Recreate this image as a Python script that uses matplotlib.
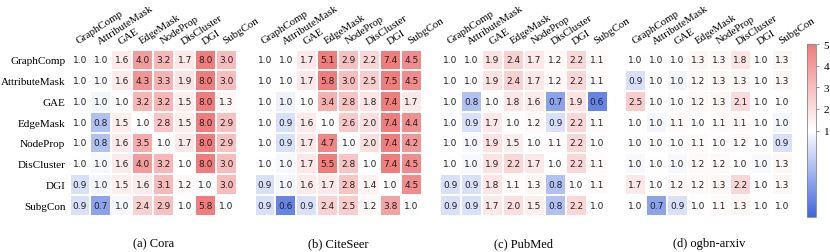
import numpy as np
import matplotlib
matplotlib.use("Agg")
import matplotlib.pyplot as plt
from matplotlib.colors import LinearSegmentedColormap, TwoSlopeNorm

methods = ["GraphComp", "AttributeMask", "GAE", "EdgeMask",
           "NodeProp", "DisCluster", "DGI", "SubgCon"]
titles = ["(a) Cora", "(b) CiteSeer", "(c) PubMed", "(d) ogbn-arxiv"]

cora = [
    [1.0, 1.0, 1.6, 4.0, 3.2, 1.7, 8.0, 3.0],
    [1.0, 1.0, 1.6, 4.3, 3.3, 1.9, 8.0, 3.0],
    [1.0, 0.97, 1.0, 3.2, 3.2, 1.5, 8.0, 1.3],
    [1.0, 0.8, 1.5, 1.0, 2.8, 1.5, 8.0, 2.9],
    [1.0, 0.8, 1.6, 3.5, 1.0, 1.7, 8.0, 2.9],
    [1.0, 0.98, 1.6, 4.0, 3.2, 1.0, 8.0, 3.0],
    [0.9, 0.97, 1.5, 1.6, 3.1, 1.2, 1.0, 3.0],
    [0.9, 0.7, 0.98, 2.4, 2.9, 1.0, 5.8, 1.0],
]
citeseer = [
    [1.0, 1.0, 1.7, 5.1, 2.9, 2.2, 7.4, 4.5],
    [1.0, 1.0, 1.7, 5.8, 3.0, 2.5, 7.5, 4.5],
    [1.0, 0.96, 1.0, 3.4, 2.8, 1.8, 7.4, 1.7],
    [1.0, 0.9, 1.6, 1.0, 2.6, 2.0, 7.4, 4.4],
    [1.0, 0.9, 1.7, 4.7, 1.0, 2.0, 7.4, 4.2],
    [1.0, 0.98, 1.7, 5.5, 2.8, 1.0, 7.4, 4.5],
    [0.9, 0.97, 1.6, 1.7, 2.8, 1.4, 1.0, 4.5],
    [0.9, 0.6, 0.9, 2.4, 2.5, 1.2, 3.8, 1.0],
]
pubmed = [
    [1.0, 1.0, 1.9, 2.4, 1.7, 1.2, 2.2, 1.1],
    [1.0, 1.0, 1.9, 2.4, 1.7, 1.2, 2.2, 1.1],
    [1.0, 0.8, 1.0, 1.8, 1.6, 0.7, 1.9, 0.6],
    [1.0, 0.9, 1.7, 1.0, 1.2, 0.9, 2.2, 1.1],
    [1.0, 0.98, 1.9, 1.5, 1.0, 1.1, 2.2, 1.0],
    [1.0, 0.98, 1.9, 2.2, 1.7, 1.0, 2.2, 1.1],
    [0.9, 0.9, 1.8, 1.1, 1.3, 0.8, 1.0, 1.1],
    [0.9, 0.9, 1.7, 2.0, 1.5, 0.8, 2.2, 1.0],
]
arxiv = [
    [1.0, 1.0, 1.0, 1.3, 1.3, 1.8, 1.0, 1.3],
    [0.9, 1.0, 0.97, 1.2, 1.3, 1.3, 1.0, 1.3],
    [2.5, 1.0, 1.0, 1.2, 1.3, 2.1, 1.0, 1.0],
    [1.0, 0.97, 1.1, 1.0, 1.1, 1.1, 1.0, 0.97],
    [1.0, 1.0, 1.0, 1.1, 1.0, 1.2, 1.0, 0.9],
    [0.98, 1.0, 0.98, 1.2, 1.2, 1.0, 0.98, 1.3],
    [1.7, 1.0, 1.2, 1.2, 1.3, 2.2, 1.0, 1.3],
    [1.0, 0.7, 0.9, 1.0, 1.1, 1.3, 1.0, 1.0],
]
datasets = [cora, citeseer, pubmed, arxiv]

serif = "Liberation Serif"
cmap = LinearSegmentedColormap.from_list("bwr_soft", ["#3f66e0", "#ffffff", "#f07c7c"])
norm = TwoSlopeNorm(vmin=0.5, vcenter=1.0, vmax=5.0)

fig = plt.figure(figsize=(8.3, 2.53), dpi=100)
lefts = [69.5, 254.5, 440, 625]
for k, (data, title) in enumerate(zip(datasets, titles)):
    arr = np.array(data)
    ax = fig.add_axes([lefts[k] / 830, 0.144, 167.5 / 830, 0.656])
    mesh = ax.pcolormesh(arr, cmap=cmap, norm=norm, edgecolors="white", linewidth=1.2)
    ax.set_xlim(0, 8)
    ax.set_ylim(8, 0)
    for i in range(8):
        for j in range(8):
            ax.text(j + 0.5, i + 0.5, f"{arr[i, j]:.1f}", ha="center", va="center",
                    fontsize=6.5, color="#222222")
    ax.xaxis.tick_top()
    ax.set_xticks(np.arange(8) + 0.5)
    ax.set_xticklabels(methods, rotation=33, ha="left", va="bottom",
                       rotation_mode="anchor", family=serif, fontsize=7.8)
    ax.tick_params(axis="x", length=0, pad=3)
    ax.set_yticks(np.arange(8) + 0.5)
    if k == 0:
        ax.set_yticklabels(methods, family=serif, fontsize=8)
        ax.tick_params(axis="y", length=0, pad=3)
    else:
        ax.set_yticklabels([])
        ax.tick_params(axis="y", length=0)
    for s in ax.spines.values():
        s.set_visible(False)
    ax.text(0.5, -0.13, title, transform=ax.transAxes, ha="center", va="top",
            family=serif, fontsize=9)

cax = fig.add_axes([807 / 830, 0.138, 9 / 830, 0.684])
cb = fig.colorbar(mesh, cax=cax)
cb.set_ticks([1, 2, 3, 4, 5])
cb.ax.tick_params(labelsize=8, length=2, width=0.5, color="#666666")
for lab in cb.ax.get_yticklabels():
    lab.set_family(serif)
cb.outline.set_edgecolor("#888888")
cb.outline.set_linewidth(0.6)

fig.savefig("out.png", dpi=100)
